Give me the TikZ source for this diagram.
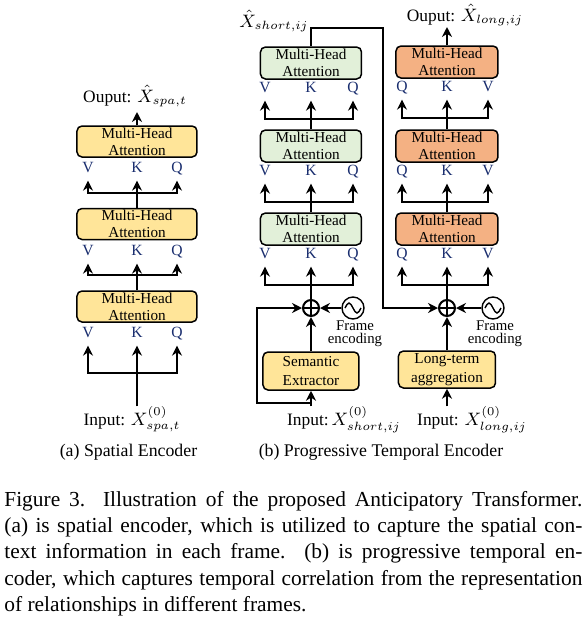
\documentclass[tikz,border=0pt]{standalone}
\usepackage{fontspec}
\setmainfont{Liberation Serif}
\usetikzlibrary{arrows.meta}

\definecolor{attyellow}{RGB}{255,229,153}
\definecolor{attgreen}{RGB}{226,240,217}
\definecolor{attorange}{RGB}{244,177,131}
\definecolor{qkvblue}{RGB}{25,45,110}

\tikzset{
  mha/.style={draw, line width=0.75pt, rounded corners=2.5pt, align=center, inner sep=0pt,
    font=\fontsize{7.6}{8.4}\selectfont},
  qkv/.style={inner sep=0pt, text height=5.2pt, text depth=0pt,
    font=\fontsize{7.8}{8}\selectfont, text=qkvblue},
  io/.style={inner sep=0pt, anchor=base, font=\fontsize{8.7}{9}\selectfont},
  note/.style={inner sep=0pt, align=center, font=\fontsize{7.4}{6.6}\selectfont},
  sub/.style={inner sep=0pt, anchor=base, font=\fontsize{8.9}{10}\selectfont},
  capline/.style={inner sep=0pt, anchor=base west, font=\fontsize{10.7}{13}\selectfont},
  arr/.style={line width=1pt, -{Stealth[length=5pt,width=5pt]}},
  ln/.style={line width=1pt},
  bar/.style={line width=1pt, line cap=rect},
  plusop/.style={draw, circle, line width=1pt, minimum size=8pt, inner sep=0pt},
  wave/.style={draw, circle, line width=0.7pt, minimum size=11pt, inner sep=0pt},
}

\begin{document}
\begin{tikzpicture}[x=0.5pt, y=-0.5pt]
\useasboundingbox (0,0) rectangle (588,618);

% (a) spatial encoder
\foreach \n/\y/\l/\b in {a1/141.5/167/193, a2/224/250/275, a3/306.5/332/373} {
  \node[mha, fill=attyellow, minimum width=60pt, minimum height=15.5pt] (\n) at (137,\y) {Multi-Head\\Attention};
  \node[qkv] (\n v) at (88,\l) {V};
  \node[qkv] (\n k) at (137,\l) {K};
  \node[qkv] (\n q) at (177,\l) {Q};
  \coordinate (\n bar) at (137,\b);
  \draw[bar] (\n v |- \n bar) -- (\n q |- \n bar);
  \foreach \m in {v,k,q} \draw[arr, shorten >=4pt] (\n\m |- \n bar) -- (\n\m);
}
\draw[ln] (a2.north) -- (a1bar);
\draw[ln] (a3.north) -- (a2bar);
\coordinate (aout) at (137,112);
\draw[arr] (a1) -- (aout);
\node[io] (aouttxt) at (135,102) {Ouput: $\hat{X}_{spa,t}$};
\node[io] (ain) at (132,425) {Input: $X^{(0)}_{spa,t}$};
\draw[ln] (ain.north -| a3) -- (a3bar);
\node[sub] (acap) at (128.5,456) {(a) Spatial Encoder};

% (b) short-term branch
\foreach \n/\y in {b1/63, b2/146, b3/229} {
  \node[mha, fill=attgreen, minimum width=50.5pt, minimum height=16pt] (\n) at (311,\y) {Multi-Head\\Attention};
  \node[qkv] (\n v) at (265,\y+24) {V};
  \node[qkv] (\n k) at (311,\y+24) {K};
  \node[qkv] (\n q) at (353,\y+24) {Q};
  \coordinate (\n bar) at (311,\y+56);
  \draw[bar] (\n v |- \n bar) -- (\n q |- \n bar);
  \foreach \m in {v,k,q} \draw[arr, shorten >=4pt] (\n\m |- \n bar) -- (\n\m);
}
\draw[ln] (b2.north) -- (b1bar);
\draw[ln] (b3.north) -- (b2bar);

\node[plusop] (P1) at (311,308) {};
\draw[ln] (P1.north) -- (P1.south) (P1.west) -- (P1.east);
\draw[ln] (P1.north) -- (b3bar);
\node[wave] (F1) at (353,308) {};
\draw[line width=0.7pt] ([xshift=-4pt]F1.center) sin ++(2pt,2.5pt) cos ++(2pt,-2.5pt) sin ++(2pt,-2.5pt) cos ++(2pt,2.5pt);
\draw[arr] (F1) -- (P1);
\node[note] (F1txt) at (355,334) {Frame\\encoding};

\node[mha, fill=attyellow, minimum width=48pt, minimum height=19pt, font=\fontsize{7.6}{9.5}\selectfont] (sem) at (311,371) {Semantic\\Extractor};
\draw[arr] (sem) -- (P1);
\node[io] (bin) at (344,425) {Input:\,$X^{(0)}_{short,ij}$};
\draw[arr] (bin.north -| sem) -- (sem);
\coordinate (bsplit) at (311,403);
\coordinate (bskip) at (257,403);
\draw[arr] (bsplit) -- (bskip) |- (P1);

\node[io] (bout) at (274,27) {$\hat{X}_{short,ij}$};
\coordinate (bturn) at (383,28);

% (b) long-term branch
\foreach \n/\y in {c1/62, c2/146, c3/229} {
  \node[mha, fill=attorange, minimum width=51pt, minimum height=16pt] (\n) at (447,\y) {Multi-Head\\Attention};
  \node[qkv] (\n q) at (402,\y+24) {Q};
  \node[qkv] (\n k) at (447,\y+24) {K};
  \node[qkv] (\n v) at (488,\y+24) {V};
  \coordinate (\n bar) at (447,\y+56);
  \draw[bar] (\n q |- \n bar) -- (\n v |- \n bar);
  \foreach \m in {q,k,v} \draw[arr, shorten >=4pt] (\n\m |- \n bar) -- (\n\m);
}
\draw[ln] (c2.north) -- (c1bar);
\draw[ln] (c3.north) -- (c2bar);
\coordinate (cout) at (447,27);
\draw[arr] (c1) -- (cout);
\node[io] (couttxt) at (465,21) {Ouput: $\hat{X}_{long,ij}$};

\node[plusop] (P2) at (447,308) {};
\draw[ln] (P2.north) -- (P2.south) (P2.west) -- (P2.east);
\draw[ln] (P2.north) -- (c3bar);
\node[wave] (F2) at (493,308) {};
\draw[line width=0.7pt] ([xshift=-4pt]F2.center) sin ++(2pt,2.5pt) cos ++(2pt,-2.5pt) sin ++(2pt,-2.5pt) cos ++(2pt,2.5pt);
\draw[arr] (F2) -- (P2);
\node[note] (F2txt) at (495,334) {Frame\\encoding};

\node[mha, fill=attyellow, minimum width=48.5pt, minimum height=18.5pt, font=\fontsize{7.6}{9.5}\selectfont] (agg) at (447,369.5) {Long-term\\aggregation};
\draw[arr] (agg) -- (P2);
\node[io] (cin) at (472,425) {Input: $X^{(0)}_{long,ij}$};
\draw[arr] (cin.north -| agg) -- (agg);

% short output feeds the long branch
\draw[arr] (b1) |- (bturn) |- (P2);

\node[sub] (bcap) at (381,456) {(b) Progressive Temporal Encoder};

% caption
\node[capline] (cap1) at (4,506) {\makebox[289pt][s]{Figure 3.  Illustration of the proposed Anticipatory Transformer.}};
\node[capline] (cap2) at (4,532) {\makebox[289pt][s]{(a) is spatial encoder, which is utilized to capture the spatial con-}};
\node[capline] (cap3) at (4,558) {\makebox[289pt][s]{text information in each frame.  (b) is progressive temporal en-}};
\node[capline] (cap4) at (4,585) {\makebox[289pt][s]{coder, which captures temporal correlation from the representation}};
\node[capline] (cap5) at (4,611) {of relationships in different frames.};
\end{tikzpicture}
\end{document}
